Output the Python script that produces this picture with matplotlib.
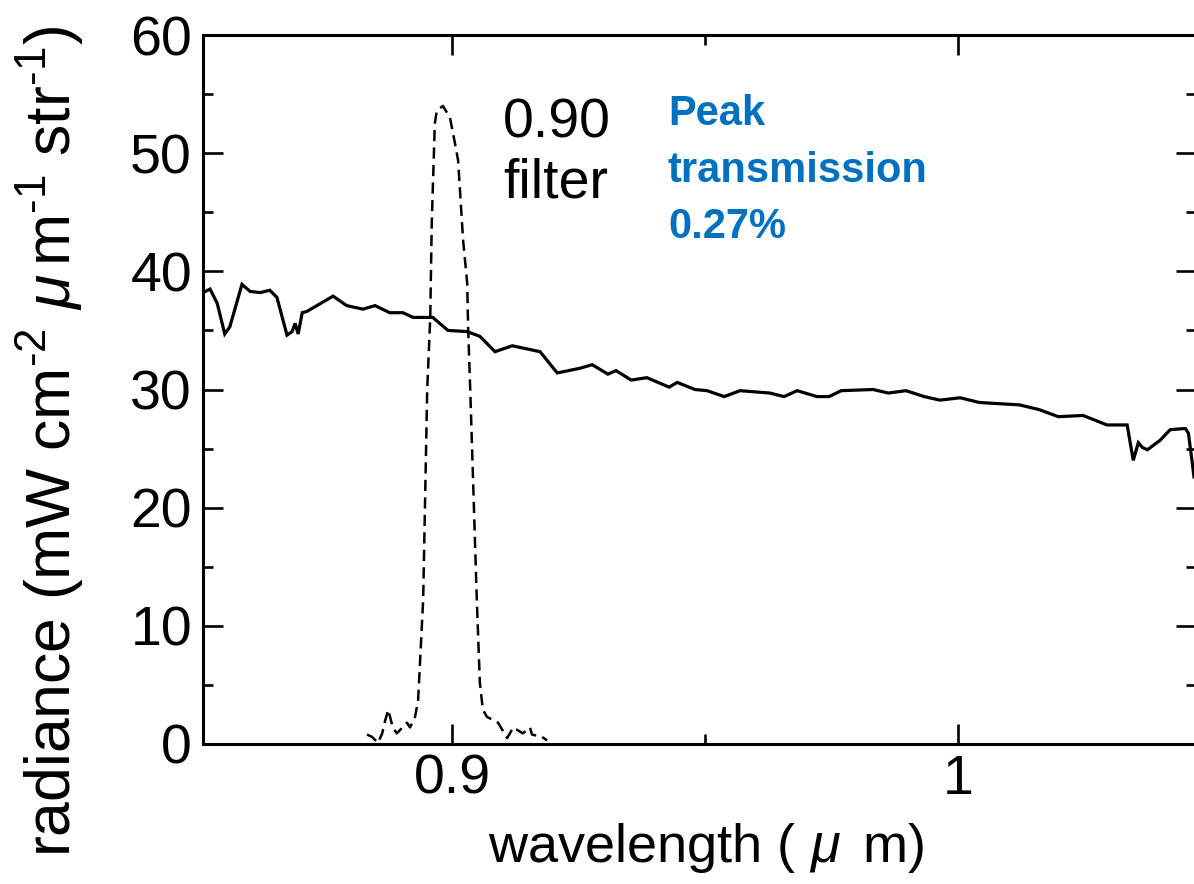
import matplotlib
matplotlib.use("Agg")
import matplotlib.pyplot as plt
from matplotlib.ticker import MultipleLocator, FixedLocator

plt.rcParams['font.family'] = ['Liberation Sans', 'DejaVu Sans']
plt.rcParams['mathtext.fontset'] = 'custom'
plt.rcParams['mathtext.rm'] = 'Liberation Sans'
plt.rcParams['mathtext.it'] = 'Liberation Sans:italic'
plt.rcParams['mathtext.bf'] = 'Liberation Sans:bold'

# Solar radiance spectrum (solid line)
radiance_wl = [0.8508, 0.8522, 0.8536, 0.8551, 0.8561, 0.8585, 0.8601, 0.8621, 0.8640, 0.8654,
               0.8674, 0.8684, 0.8690, 0.8696, 0.8704, 0.8713, 0.8745, 0.8765, 0.8792, 0.8824,
               0.8848, 0.8877, 0.8903, 0.8923, 0.8962, 0.8992, 0.9030, 0.9055, 0.9085, 0.9119,
               0.9174, 0.9208, 0.9253, 0.9277, 0.9308, 0.9324, 0.9354, 0.9385, 0.9429, 0.9445,
               0.9480, 0.9504, 0.9538, 0.9569, 0.9628, 0.9656, 0.9682, 0.9721, 0.9745, 0.9769,
               0.9832, 0.9862, 0.9897, 0.9933, 0.9964, 1.0004, 1.0042, 1.0081, 1.0121, 1.0160,
               1.0198, 1.0247, 1.0294, 1.0334, 1.0340, 1.0346, 1.0356, 1.0364, 1.0374, 1.0399,
               1.0419, 1.0449, 1.0455, 1.0462, 1.0466]
radiance_val = [38.2, 38.5, 37.3, 34.7, 35.3, 38.9, 38.3, 38.2, 38.4, 37.8,
                34.6, 34.9, 35.6, 34.7, 36.5, 36.6, 37.4, 37.9, 37.1, 36.8,
                37.1, 36.5, 36.5, 36.1, 36.1, 35.0, 34.9, 34.5, 33.2, 33.7,
                33.2, 31.4, 31.8, 32.1, 31.3, 31.6, 30.8, 31.0, 30.2, 30.6,
                30.0, 29.9, 29.4, 29.9, 29.7, 29.4, 29.9, 29.4, 29.4, 29.9,
                30.0, 29.7, 29.9, 29.4, 29.1, 29.3, 28.9, 28.8, 28.7, 28.3,
                27.7, 27.8, 27.0, 27.0, 25.5, 24.0, 25.5, 25.1, 24.9, 25.7,
                26.6, 26.7, 26.3, 24.0, 22.6]

# 0.90 filter transmission (dashed line, scaled)
filter_wl = [0.8832, 0.8842, 0.8854, 0.8862, 0.8868, 0.8874, 0.8883, 0.8891, 0.8911, 0.8917,
             0.8927, 0.8933, 0.8943, 0.8951, 0.8957, 0.8960, 0.8966, 0.8970, 0.8982, 0.8996,
             0.9006, 0.9012, 0.9022, 0.9030, 0.9032, 0.9036, 0.9049, 0.9055, 0.9061, 0.9069,
             0.9091, 0.9109, 0.9121, 0.9140, 0.9154, 0.9158, 0.9178, 0.9188]
filter_val = [0.8, 0.6, 0.1, 0.9, 2.0, 2.9, 1.4, 0.9, 1.8, 1.4,
              2.3, 3.7, 12.2, 30.0, 36.1, 44.1, 52.5, 53.6, 54.0, 53.0,
              50.8, 49.4, 42.6, 39.0, 35.0, 30.0, 12.2, 5.2, 2.9, 2.3,
              1.8, 0.5, 1.4, 0.9, 1.4, 0.8, 0.6, 0.3]

x_major = [0.9, 1.0]
x_major_labels = ['0.9', '1']
x_minor = [0.85, 0.95, 1.05]
y_major = [0, 10, 20, 30, 40, 50, 60]

filter_label = ['0.90', 'filter']
peak_label = ['Peak', 'transmission', '0.27%']

W, H = 1194, 884
fig = plt.figure(figsize=(W / 100, H / 100), dpi=100)
ax = fig.add_axes([203 / W, 140 / H, (1196 - 203) / W, 709 / H])

ax.plot(radiance_wl, radiance_val, color='black', lw=2.3, solid_joinstyle='miter')
ax.plot(filter_wl, filter_val, color='black', lw=1.8, linestyle=(0, (4.5, 2.5)))

ax.set_xlim(0.8508, 1.0470)
ax.set_ylim(0, 60)

ax.xaxis.set_major_locator(FixedLocator(x_major))
ax.set_xticklabels(x_major_labels)
ax.xaxis.set_minor_locator(FixedLocator(x_minor))
ax.yaxis.set_major_locator(FixedLocator(y_major))
ax.yaxis.set_minor_locator(MultipleLocator(5))

ax.tick_params(which='both', direction='in', top=True, right=True, width=1.9, color='black')
ax.tick_params(which='major', length=14.5)
ax.tick_params(which='minor', length=7)
ax.tick_params(axis='x', which='major', labelsize=40, pad=7)
ax.tick_params(axis='y', which='major', labelsize=40, pad=8)
for s in ax.spines.values():
    s.set_linewidth(2.2)

# labels
fig.text(50 / W, 1 - 441 / H,
         r'radiance (mW cm$^{\text{-}2}$ $\mu\,$m$^{\text{-}1}$ str$^{\text{-}1}$)',
         rotation=90, ha='center', va='center', fontsize=45)
fig.text(706 / W, 1 - 848 / H, r'wavelength ( $\mu\,$ m)', ha='center', va='center', fontsize=39)

# annotations
fig.text(503 / W, 1 - 138 / H, filter_label[0], ha='left', va='baseline', fontsize=40)
fig.text(503 / W, 1 - 198 / H, filter_label[1], ha='left', va='baseline', fontsize=40)
for txt, yb in zip(peak_label, [125, 182, 238]):
    fig.text(668 / W, 1 - yb / H, txt, ha='left', va='baseline', fontsize=30,
             fontweight='bold', color='#0070C0')

fig.savefig('out.png', dpi=100)
